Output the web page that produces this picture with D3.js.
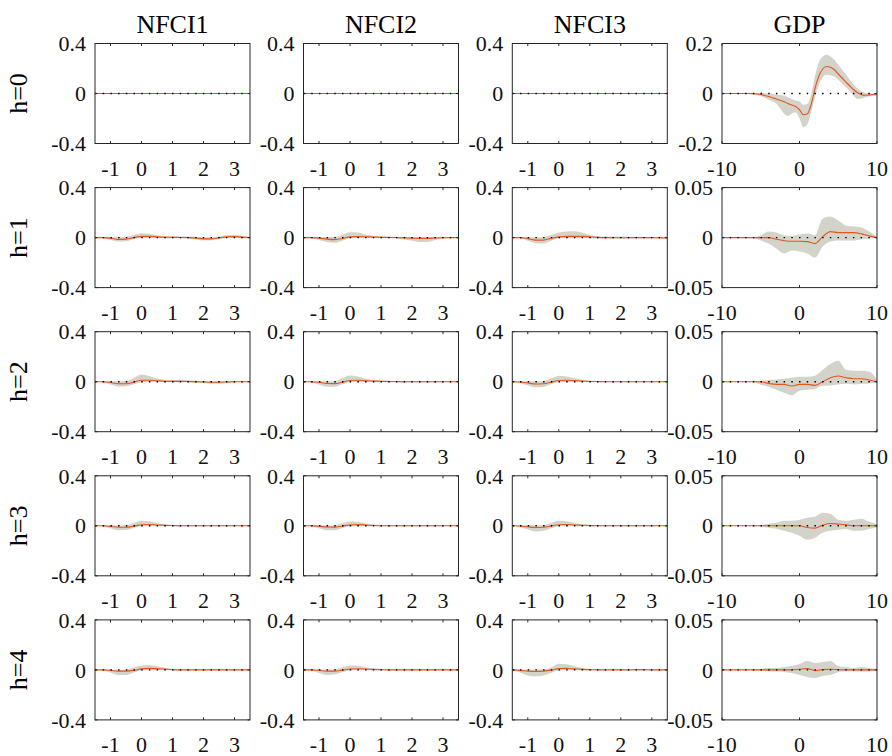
<!DOCTYPE html>
<html><head><meta charset="utf-8">
<script src="https://cdn.jsdelivr.net/npm/d3@7"></script>
<style>body{margin:0;background:#fff}svg{display:block}</style>
</head><body><svg id="c" width="892" height="756"></svg>
<script>
// ---------- DATA ----------
const columns = ["NFCI1", "NFCI2", "NFCI3", "GDP"];
const horizons = ["h=0", "h=1", "h=2", "h=3", "h=4"];

const nfciX = [-1.5,-1.25,-1,-0.75,-0.5,-0.25,0,0.25,0.5,0.75,1,1.25,1.5,1.75,2,2.25,2.5,2.75,3,3.25,3.5];
const nfciXTicks = [-1, 0, 1, 2, 3];
const nfciXLabels = ["-1", "0", "1", "2", "3"];
const nfciYTicks = [-0.4, 0, 0.4];
const nfciYLabels = ["-0.4", "0", "0.4"];

const gdpX0 = [-10,-9.5,-9,-8.5,-8,-7.5,-7,-6.5,-6,-5.5,-5,-4.5,-4,-3.5,-3,-2.5,-2,-1.5,-1,-0.5,0,0.5,1,1.5,2,2.5,3,3.5,4,4.5,5,5.5,6,6.5,7,7.5,8,8.5,9,9.5,10];
const gdpX = [-10,-9,-8,-7,-6,-5,-4,-3,-2,-1,0,1,2,3,4,5,6,7,8,9,10];
const gdpXTicks = [-10, 0, 10];
const gdpXLabels = ["-10", "0", "10"];
const gdpYTicks0 = [-0.2, 0, 0.2];
const gdpYLabels0 = ["-0.2", "0", "0.2"];
const gdpYTicks = [-0.05, 0, 0.05];
const gdpYLabels = ["-0.05", "0", "0.05"];

const Z = [0,0,0,0,0,0,0,0,0,0,0,0,0,0,0,0,0,0,0,0,0];

// NFCI1 (rows: h=0..4)
const nfci1Mid = [Z,
  [0,0,-0.005,-0.014,-0.012,0,0.01,0.01,0.006,0.003,0.002,0.001,0,-0.003,-0.01,-0.01,-0.002,0.006,0.008,0.004,0],
  [0,0,-0.006,-0.016,-0.016,-0.004,0.012,0.012,0.008,0.004,0.003,0.003,0.002,0,-0.002,-0.004,-0.004,-0.002,0,0,0],
  [0,0,-0.005,-0.012,-0.012,-0.003,0.008,0.01,0.007,0.004,0.002,0.001,0,0,0,0,0,0,0,0,0],
  [0,0,-0.004,-0.01,-0.01,-0.004,0.008,0.012,0.01,0.006,0.002,0,0,0,0,0,0,0,0,0,0]];
const nfci1Lo = [Z,
  [0,-0.003,-0.02,-0.032,-0.03,-0.012,-0.004,-0.004,-0.004,-0.005,-0.006,-0.006,-0.008,-0.015,-0.024,-0.022,-0.012,-0.004,-0.003,-0.003,0],
  [0,-0.004,-0.022,-0.038,-0.036,-0.02,-0.004,-0.003,-0.003,-0.004,-0.004,-0.004,-0.005,-0.008,-0.012,-0.016,-0.016,-0.01,-0.004,-0.002,0],
  [0,-0.004,-0.02,-0.035,-0.034,-0.018,-0.004,-0.003,-0.003,-0.003,-0.003,-0.003,-0.003,-0.003,-0.003,-0.003,-0.003,-0.003,-0.003,-0.002,0],
  [0,-0.004,-0.02,-0.04,-0.04,-0.02,-0.004,-0.002,-0.002,-0.002,-0.003,-0.003,-0.003,-0.003,-0.003,-0.003,-0.003,-0.003,-0.003,-0.002,0]];
const nfci1Hi = [Z,
  [0,0.004,0.006,0.004,0.006,0.02,0.035,0.03,0.018,0.012,0.01,0.008,0.008,0.006,0.002,0.002,0.008,0.018,0.02,0.012,0],
  [0,0.004,0.004,0.004,0.006,0.03,0.057,0.045,0.025,0.015,0.014,0.014,0.012,0.008,0.006,0.004,0.004,0.004,0.003,0.002,0],
  [0,0.003,0.004,0.003,0.005,0.022,0.04,0.036,0.022,0.012,0.007,0.005,0.004,0.004,0.004,0.004,0.004,0.004,0.003,0.002,0],
  [0,0.003,0.004,0.002,0.004,0.02,0.035,0.04,0.03,0.018,0.008,0.004,0.003,0.003,0.003,0.003,0.003,0.003,0.003,0.002,0]];

// NFCI2
const nfci2Mid = [Z,
  [0,0,-0.004,-0.012,-0.016,-0.008,0.006,0.008,0.007,0.005,0.003,0.001,0,-0.002,-0.004,-0.006,-0.006,-0.003,-0.001,0,0],
  [0,0,-0.005,-0.014,-0.015,-0.004,0.01,0.012,0.008,0.005,0.003,0.002,0.001,0,0,0,0,0,0,0,0],
  [0,0,-0.004,-0.01,-0.011,-0.003,0.007,0.009,0.006,0.003,0.001,0,0,0,0,0,0,0,0,0,0],
  [0,0,-0.004,-0.01,-0.01,-0.002,0.007,0.009,0.007,0.004,0.002,0,0,0,0,0,0,0,0,0,0]];
const nfci2Lo = [Z,
  [0,-0.003,-0.02,-0.035,-0.042,-0.025,-0.005,-0.004,-0.004,-0.004,-0.005,-0.006,-0.008,-0.015,-0.025,-0.035,-0.035,-0.02,-0.01,-0.004,0],
  [0,-0.004,-0.022,-0.04,-0.04,-0.02,-0.004,-0.003,-0.003,-0.004,-0.004,-0.004,-0.004,-0.004,-0.004,-0.004,-0.004,-0.004,-0.003,-0.002,0],
  [0,-0.004,-0.02,-0.036,-0.036,-0.018,-0.004,-0.003,-0.003,-0.003,-0.003,-0.003,-0.003,-0.003,-0.003,-0.003,-0.003,-0.003,-0.003,-0.002,0],
  [0,-0.006,-0.025,-0.04,-0.036,-0.018,-0.004,-0.003,-0.003,-0.003,-0.003,-0.003,-0.003,-0.003,-0.003,-0.003,-0.003,-0.003,-0.003,-0.002,0]];
const nfci2Hi = [Z,
  [0,0.004,0.005,0.004,0.005,0.02,0.042,0.04,0.025,0.015,0.01,0.008,0.006,0.005,0.004,0.003,0.004,0.004,0.003,0.002,0],
  [0,0.004,0.004,0.004,0.006,0.028,0.05,0.042,0.025,0.014,0.01,0.008,0.006,0.005,0.005,0.005,0.005,0.005,0.004,0.002,0],
  [0,0.003,0.004,0.003,0.005,0.02,0.035,0.032,0.02,0.01,0.006,0.004,0.004,0.004,0.004,0.004,0.004,0.004,0.003,0.002,0],
  [0,0.003,0.004,0.003,0.005,0.02,0.035,0.033,0.022,0.012,0.006,0.004,0.003,0.003,0.003,0.003,0.003,0.003,0.003,0.002,0]];

// NFCI3
const nfci3Mid = [Z,
  [0,0,-0.008,-0.02,-0.02,-0.006,0.006,0.01,0.01,0.01,0.006,0.002,0,-0.001,-0.001,-0.001,0,0,0,-0.002,-0.003],
  [0,-0.002,-0.01,-0.018,-0.016,-0.004,0.01,0.012,0.009,0.005,0.002,0.001,0,0,0,0,0,0,0,0,0],
  [0,-0.002,-0.008,-0.014,-0.012,-0.002,0.008,0.01,0.007,0.004,0.002,0,0,0,0,0,0,0,0,0,0],
  [0,-0.004,-0.01,-0.013,-0.01,-0.002,0.01,0.012,0.008,0.004,0.002,0,0,0,0,0,0.002,0.002,0,0,0]];
const nfci3Lo = [Z,
  [0,-0.004,-0.025,-0.045,-0.048,-0.025,-0.005,-0.003,-0.004,-0.004,-0.006,-0.008,-0.008,-0.008,-0.008,-0.007,-0.006,-0.006,-0.005,-0.006,-0.005],
  [0,-0.01,-0.03,-0.045,-0.042,-0.02,-0.004,-0.003,-0.003,-0.003,-0.003,-0.003,-0.003,-0.003,-0.003,-0.003,-0.003,-0.003,-0.003,-0.002,0],
  [0,-0.01,-0.03,-0.045,-0.04,-0.02,-0.004,-0.003,-0.003,-0.003,-0.003,-0.003,-0.003,-0.003,-0.003,-0.003,-0.003,-0.003,-0.003,-0.002,0],
  [0,-0.02,-0.045,-0.053,-0.045,-0.025,-0.005,-0.003,-0.003,-0.003,-0.003,-0.003,-0.003,-0.003,-0.003,-0.003,-0.003,-0.003,-0.003,-0.002,0]];
const nfci3Hi = [Z,
  [0,0.004,0.005,0.003,0.005,0.02,0.04,0.048,0.05,0.04,0.02,0.01,0.008,0.008,0.008,0.007,0.006,0.005,0.004,0.002,0],
  [0,0.003,0.004,0.004,0.006,0.025,0.045,0.042,0.028,0.015,0.008,0.005,0.004,0.004,0.004,0.004,0.004,0.004,0.003,0.002,0],
  [0,0.003,0.004,0.004,0.006,0.022,0.04,0.036,0.022,0.012,0.007,0.004,0.004,0.004,0.004,0.004,0.004,0.004,0.003,0.002,0],
  [0,0.003,0.004,0.004,0.005,0.02,0.05,0.045,0.03,0.015,0.008,0.005,0.004,0.003,0.003,0.004,0.006,0.006,0.004,0.002,0]];

// GDP (h=0 on gdpX0, h=1..4 on gdpX)
const gdpMid = [
  [0,0,0,0,0,0,0,0,-0.001,-0.002,-0.004,-0.008,-0.012,-0.017,-0.022,-0.027,-0.033,-0.04,-0.046,-0.052,-0.065,-0.085,-0.082,-0.045,0.02,0.07,0.098,0.108,0.105,0.095,0.078,0.062,0.045,0.03,0.015,0.003,-0.005,-0.007,-0.006,-0.004,-0.003],
  [0,0,0,0,0,0,0,-0.0017,-0.003,-0.0037,-0.0037,-0.004,-0.006,0.001,0.006,0.005,0.005,0.005,0.0037,0.0017,0],
  [0,0,0,0,0,0,-0.0017,-0.0027,-0.0027,-0.0043,-0.0027,-0.0027,-0.0037,0,0.004,0.0057,0.004,0.003,0.003,0.0017,0],
  [0,0,0,0,0,0,0,0,0,0,0,-0.0017,-0.0023,0.0007,0.0023,0.0017,0.001,0,0,0,0],
  [0,0,0,0,0,0,0,0,0,0,0.0007,0.0013,-0.0007,0.0003,0.0007,0.0003,0,0,0,0,0]];
const gdpLo = [
  [-0.001,-0.001,-0.001,-0.001,-0.001,-0.001,-0.001,-0.002,-0.003,-0.006,-0.01,-0.017,-0.024,-0.032,-0.04,-0.06,-0.08,-0.09,-0.08,-0.075,-0.1,-0.135,-0.125,-0.075,-0.015,0.035,0.065,0.075,0.072,0.068,0.055,0.04,0.025,0.01,-0.01,-0.022,-0.02,-0.015,-0.012,-0.01,-0.01],
  [0,0,0,0,-0.0003,-0.003,-0.006,-0.011,-0.016,-0.013,-0.014,-0.016,-0.02,-0.009,-0.004,-0.003,-0.003,-0.003,-0.002,-0.001,-0.0003],
  [0,0,0,0,-0.0003,-0.003,-0.005,-0.008,-0.011,-0.0135,-0.009,-0.008,-0.007,-0.004,-0.0037,-0.0027,-0.002,-0.0027,-0.002,-0.0017,-0.001],
  [0,0,0,0,-0.0003,-0.0007,-0.002,-0.003,-0.005,-0.007,-0.01,-0.014,-0.012,-0.007,-0.005,-0.004,-0.0033,-0.005,-0.005,-0.0033,-0.0017],
  [0,0,0,0,-0.0003,-0.0007,-0.0013,-0.0017,-0.002,-0.003,-0.005,-0.007,-0.008,-0.006,-0.005,-0.0023,-0.0013,-0.0013,-0.0017,-0.0013,-0.0007]];
const gdpHi = [
  [0.001,0.001,0.001,0.001,0.001,0.001,0.001,0.001,0.002,0.002,0.002,0.001,0,-0.002,-0.004,-0.006,-0.008,-0.015,-0.022,-0.028,-0.032,-0.045,-0.042,-0.005,0.07,0.125,0.148,0.155,0.148,0.135,0.115,0.095,0.075,0.055,0.035,0.02,0.008,0.003,0.002,0.001,0.001],
  [0,0,0,0,0.0003,0.002,0.006,0.005,0.0023,0.0017,0.003,0.004,0.0023,0.019,0.021,0.017,0.012,0.011,0.01,0.006,0.0007],
  [0,0,0,0,0.0003,0.0007,0.0017,0.0023,0.003,0.004,0.005,0.005,0.006,0.012,0.018,0.021,0.012,0.011,0.011,0.01,0.002],
  [0,0,0,0,0.0003,0.0007,0.002,0.003,0.005,0.005,0.006,0.008,0.009,0.013,0.012,0.006,0.005,0.006,0.007,0.004,0.0017],
  [0,0,0,0,0.0003,0.001,0.002,0.002,0.003,0.004,0.006,0.009,0.007,0.008,0.009,0.004,0.003,0.002,0.003,0.002,0.001]];

// ---------- LAYOUT ----------
const W = 892, H = 756;
const colLeft = [95, 303.5, 512.3, 722];
const panelW = 155, panelH = 100;
const rowTop0 = 43.5, rowStep = 144.1;
const FONT = "'Liberation Serif','Times New Roman',serif";
const tickFont = 22, titleFont = 26;
const bandColor = "#d4d3ca", lineColor = "#e2561f", axisColor = "#262626";

const svg = d3.select("#c");
svg.append("rect").attr("width", W).attr("height", H).attr("fill", "#fff");

const mids = [nfci1Mid, nfci2Mid, nfci3Mid, gdpMid];
const los = [nfci1Lo, nfci2Lo, nfci3Lo, gdpLo];
const his = [nfci1Hi, nfci2Hi, nfci3Hi, gdpHi];

for (let r = 0; r < horizons.length; r++) {
  for (let c = 0; c < columns.length; c++) {
    const isGdp = c === 3;
    const xs = isGdp ? (r === 0 ? gdpX0 : gdpX) : nfciX;
    const xDom = isGdp ? [-10, 10] : [-1.5, 3.5];
    const xTicks = isGdp ? gdpXTicks : nfciXTicks;
    const xLabels = isGdp ? gdpXLabels : nfciXLabels;
    const yTicks = isGdp ? (r === 0 ? gdpYTicks0 : gdpYTicks) : nfciYTicks;
    const yLabels = isGdp ? (r === 0 ? gdpYLabels0 : gdpYLabels) : nfciYLabels;
    const yDom = [yTicks[0], yTicks[2]];

    const left = colLeft[c], top = rowTop0 + r * rowStep;
    const x = d3.scaleLinear().domain(xDom).range([0, panelW]);
    const y = d3.scaleLinear().domain(yDom).range([panelH, 0]);
    const g = svg.append("g").attr("transform", `translate(${left},${top})`);

    const data = xs.map((xv, i) => ({x: xv, m: mids[c][r][i], lo: los[c][r][i], hi: his[c][r][i]}));

    const clipId = `clip-${r}-${c}`;
    g.append("clipPath").attr("id", clipId).append("rect").attr("width", panelW).attr("height", panelH);
    const inner = g.append("g").attr("clip-path", `url(#${clipId})`);

    inner.append("path").datum(data)
      .attr("fill", bandColor).attr("stroke", "none")
      .attr("d", d3.area().x(d => x(d.x)).y0(d => y(d.lo)).y1(d => y(d.hi)).curve(d3.curveMonotoneX));
    inner.append("path").datum(data)
      .attr("fill", "none").attr("stroke", lineColor).attr("stroke-width", 1.1)
      .attr("d", d3.line().x(d => x(d.x)).y(d => y(d.m)).curve(d3.curveMonotoneX));
    inner.append("line")
      .attr("x1", 0).attr("x2", panelW).attr("y1", y(0)).attr("y2", y(0))
      .attr("stroke", "#000").attr("stroke-width", 1.4).attr("stroke-dasharray", "1.5 6.2");

    g.append("rect").attr("width", panelW).attr("height", panelH)
      .attr("fill", "none").attr("stroke", axisColor).attr("stroke-width", 1);

    const tl = 2.5;
    xTicks.forEach(t => {
      g.append("line").attr("x1", x(t)).attr("x2", x(t)).attr("y1", panelH).attr("y2", panelH - tl).attr("stroke", axisColor);
      g.append("line").attr("x1", x(t)).attr("x2", x(t)).attr("y1", 0).attr("y2", tl).attr("stroke", axisColor);
    });
    yTicks.forEach(t => {
      g.append("line").attr("x1", 0).attr("x2", tl).attr("y1", y(t)).attr("y2", y(t)).attr("stroke", axisColor);
      g.append("line").attr("x1", panelW).attr("x2", panelW - tl).attr("y1", y(t)).attr("y2", y(t)).attr("stroke", axisColor);
    });

    xTicks.forEach((t, i) => {
      g.append("text").attr("x", x(t)).attr("y", panelH + 32)
        .attr("text-anchor", "middle").attr("font-family", FONT).attr("font-size", tickFont)
        .attr("fill", "#111").text(xLabels[i]);
    });
    yTicks.forEach((t, i) => {
      g.append("text").attr("x", -9).attr("y", y(t)).attr("dy", "0.35em")
        .attr("text-anchor", "end").attr("font-family", FONT).attr("font-size", tickFont)
        .attr("fill", "#111").text(yLabels[i]);
    });

    if (r === 0) {
      g.append("text").attr("x", panelW / 2).attr("y", -11)
        .attr("text-anchor", "middle").attr("font-family", FONT).attr("font-size", titleFont)
        .attr("fill", "#000").text(columns[c]);
    }
    if (c === 0) {
      g.append("text").attr("transform", `translate(${-68},${panelH / 2}) rotate(-90)`)
        .attr("text-anchor", "middle").attr("font-family", FONT).attr("font-size", titleFont)
        .attr("fill", "#000").text(horizons[r]);
    }
  }
}
</script></body></html>
